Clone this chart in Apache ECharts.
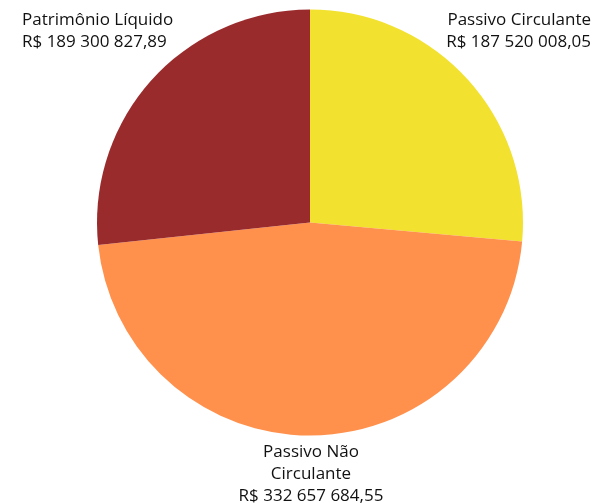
<!DOCTYPE html>
<html><head><meta charset="utf-8">
<script src="https://cdn.jsdelivr.net/npm/echarts@6/dist/echarts.min.js"></script>
<style>html,body{margin:0;padding:0;background:#fff}#c{width:595px;height:503px}</style>
</head><body><div id="c"></div>
<script>
const categories = ['Passivo Circulante', 'Passivo Não\nCirculante', 'Patrimônio Líquido'];
const values = [187520008.05, 332657684.55, 189300827.89];
const valueLabels = ['R$ 187 520 008,05', 'R$ 332 657 684,55', 'R$ 189 300 827,89'];
const colors = ['#F2E12F', '#FF914D', '#9A2B2D'];

const chart = echarts.init(document.getElementById('c'), null, {renderer: 'canvas'});
const labelPos = [
  {x: 591, y: 31, align: 'right'},
  {x: 311, y: 474.5, align: 'center'},
  {x: 22, y: 31, align: 'left'}
];
chart.setOption({
  animation: false,
  series: [{
    type: 'pie',
    center: [310, 222.5],
    radius: [0, 213],
    startAngle: 90,
    clockwise: true,
    data: categories.map((c, i) => ({name: c, value: values[i], itemStyle: {color: colors[i]}})),
    label: {
      show: true,
      position: 'outside',
      formatter: p => p.name + '\n' + valueLabels[p.dataIndex],
      fontFamily: 'Open Sans',
      fontSize: 17,
      lineHeight: 22,
      color: '#111',
      overflow: 'none',
      width: 300
    },
    labelLine: {show: false},
    labelLayout: p => Object.assign({verticalAlign: 'middle'}, labelPos[p.dataIndex])
  }]
});
</script></body></html>
